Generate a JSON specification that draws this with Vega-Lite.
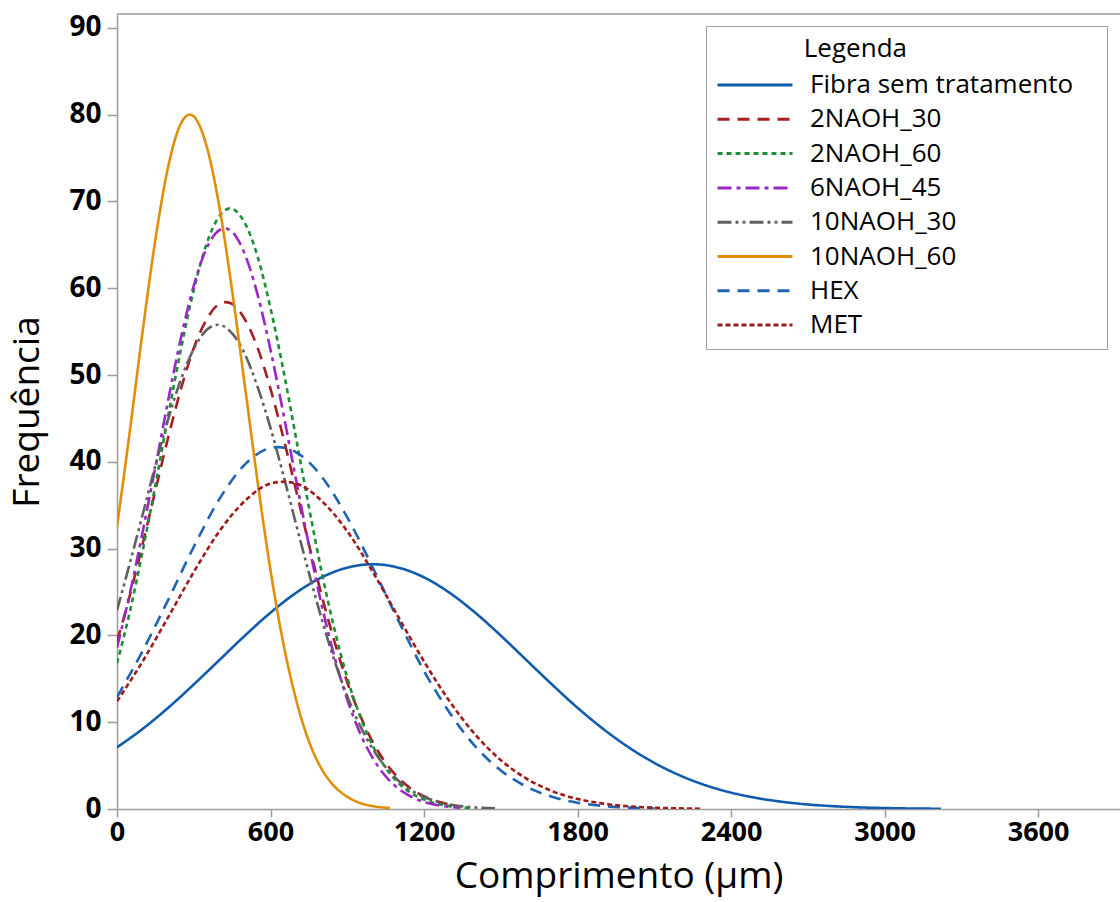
{
"$schema": "https://vega.github.io/schema/vega-lite/v6.json",
"width": 1003, "height": 795,
"autosize": {"type": "none"},
"padding": {"left": 117, "top": 14, "right": 0, "bottom": 93},
"background": "white",
"config": {"view": {"stroke": null}, "font": "Open Sans"},
"layer": [
{
"data": {"values": [
{"s":"Fibra sem tratamento","x":0,"y":7.10},{"s":"Fibra sem tratamento","x":100,"y":9.23},{"s":"Fibra sem tratamento","x":200,"y":11.66},{"s":"Fibra sem tratamento","x":300,"y":14.35},{"s":"Fibra sem tratamento","x":400,"y":17.16},{"s":"Fibra sem tratamento","x":500,"y":19.98},{"s":"Fibra sem tratamento","x":600,"y":22.62},{"s":"Fibra sem tratamento","x":700,"y":24.91},{"s":"Fibra sem tratamento","x":800,"y":26.69},{"s":"Fibra sem tratamento","x":900,"y":27.81},{"s":"Fibra sem tratamento","x":1000,"y":28.2},{"s":"Fibra sem tratamento","x":1100,"y":27.81},{"s":"Fibra sem tratamento","x":1200,"y":26.69},{"s":"Fibra sem tratamento","x":1300,"y":24.91},{"s":"Fibra sem tratamento","x":1400,"y":22.62},{"s":"Fibra sem tratamento","x":1500,"y":19.98},{"s":"Fibra sem tratamento","x":1600,"y":17.16},{"s":"Fibra sem tratamento","x":1700,"y":14.35},{"s":"Fibra sem tratamento","x":1800,"y":11.66},{"s":"Fibra sem tratamento","x":1900,"y":9.23},{"s":"Fibra sem tratamento","x":2000,"y":7.10},{"s":"Fibra sem tratamento","x":2100,"y":5.31},{"s":"Fibra sem tratamento","x":2200,"y":3.87},{"s":"Fibra sem tratamento","x":2300,"y":2.74},{"s":"Fibra sem tratamento","x":2400,"y":1.89},{"s":"Fibra sem tratamento","x":2500,"y":1.27},{"s":"Fibra sem tratamento","x":2600,"y":0.83},{"s":"Fibra sem tratamento","x":2700,"y":0.52},{"s":"Fibra sem tratamento","x":2800,"y":0.32},{"s":"Fibra sem tratamento","x":2900,"y":0.19},{"s":"Fibra sem tratamento","x":3000,"y":0.11},{"s":"Fibra sem tratamento","x":3100,"y":0.06},{"s":"Fibra sem tratamento","x":3220,"y":0.03},
{"s":"2NAOH_30","x":0,"y":19.3},{"s":"2NAOH_30","x":50,"y":24.6},{"s":"2NAOH_30","x":100,"y":30.5},{"s":"2NAOH_30","x":150,"y":36.7},{"s":"2NAOH_30","x":200,"y":42.8},{"s":"2NAOH_30","x":250,"y":48.4},{"s":"2NAOH_30","x":300,"y":53.1},{"s":"2NAOH_30","x":350,"y":56.4},{"s":"2NAOH_30","x":400,"y":58.2},{"s":"2NAOH_30","x":425,"y":58.4},{"s":"2NAOH_30","x":450,"y":58.2},{"s":"2NAOH_30","x":500,"y":56.4},{"s":"2NAOH_30","x":550,"y":53.1},{"s":"2NAOH_30","x":600,"y":48.4},{"s":"2NAOH_30","x":650,"y":42.8},{"s":"2NAOH_30","x":700,"y":36.7},{"s":"2NAOH_30","x":750,"y":30.5},{"s":"2NAOH_30","x":800,"y":24.6},{"s":"2NAOH_30","x":850,"y":19.3},{"s":"2NAOH_30","x":900,"y":14.6},{"s":"2NAOH_30","x":950,"y":10.8},{"s":"2NAOH_30","x":1000,"y":7.68},{"s":"2NAOH_30","x":1050,"y":5.32},{"s":"2NAOH_30","x":1100,"y":3.57},{"s":"2NAOH_30","x":1150,"y":2.32},{"s":"2NAOH_30","x":1200,"y":1.47},{"s":"2NAOH_30","x":1250,"y":0.90},{"s":"2NAOH_30","x":1300,"y":0.53},
{"s":"2NAOH_60","x":0,"y":16.8},{"s":"2NAOH_60","x":50,"y":22.7},{"s":"2NAOH_60","x":100,"y":29.7},{"s":"2NAOH_60","x":150,"y":37.3},{"s":"2NAOH_60","x":200,"y":45.3},{"s":"2NAOH_60","x":250,"y":53.0},{"s":"2NAOH_60","x":300,"y":59.8},{"s":"2NAOH_60","x":350,"y":65.1},{"s":"2NAOH_60","x":400,"y":68.3},{"s":"2NAOH_60","x":442,"y":69.2},{"s":"2NAOH_60","x":500,"y":67.5},{"s":"2NAOH_60","x":550,"y":63.6},{"s":"2NAOH_60","x":600,"y":57.7},{"s":"2NAOH_60","x":650,"y":50.6},{"s":"2NAOH_60","x":700,"y":42.7},{"s":"2NAOH_60","x":750,"y":34.8},{"s":"2NAOH_60","x":800,"y":27.3},{"s":"2NAOH_60","x":850,"y":20.7},{"s":"2NAOH_60","x":900,"y":15.1},{"s":"2NAOH_60","x":950,"y":10.7},{"s":"2NAOH_60","x":1000,"y":7.25},{"s":"2NAOH_60","x":1050,"y":4.75},{"s":"2NAOH_60","x":1100,"y":3.00},{"s":"2NAOH_60","x":1150,"y":1.83},{"s":"2NAOH_60","x":1200,"y":1.08},{"s":"2NAOH_60","x":1250,"y":0.61},{"s":"2NAOH_60","x":1300,"y":0.33},{"s":"2NAOH_60","x":1350,"y":0.18},{"s":"2NAOH_60","x":1380,"y":0.12},
{"s":"6NAOH_45","x":0,"y":18.6},{"s":"6NAOH_45","x":50,"y":24.8},{"s":"6NAOH_45","x":100,"y":31.9},{"s":"6NAOH_45","x":150,"y":39.4},{"s":"6NAOH_45","x":200,"y":47.1},{"s":"6NAOH_45","x":250,"y":54.3},{"s":"6NAOH_45","x":300,"y":60.3},{"s":"6NAOH_45","x":350,"y":64.6},{"s":"6NAOH_45","x":400,"y":66.7},{"s":"6NAOH_45","x":420,"y":66.9},{"s":"6NAOH_45","x":450,"y":66.5},{"s":"6NAOH_45","x":500,"y":63.9},{"s":"6NAOH_45","x":550,"y":59.2},{"s":"6NAOH_45","x":600,"y":52.9},{"s":"6NAOH_45","x":650,"y":45.6},{"s":"6NAOH_45","x":700,"y":37.9},{"s":"6NAOH_45","x":750,"y":30.4},{"s":"6NAOH_45","x":800,"y":23.5},{"s":"6NAOH_45","x":850,"y":17.5},{"s":"6NAOH_45","x":900,"y":12.6},{"s":"6NAOH_45","x":950,"y":8.74},{"s":"6NAOH_45","x":1000,"y":5.85},{"s":"6NAOH_45","x":1050,"y":3.77},{"s":"6NAOH_45","x":1100,"y":2.35},{"s":"6NAOH_45","x":1150,"y":1.41},{"s":"6NAOH_45","x":1200,"y":0.81},{"s":"6NAOH_45","x":1250,"y":0.45},{"s":"6NAOH_45","x":1300,"y":0.24},{"s":"6NAOH_45","x":1340,"y":0.15},
{"s":"10NAOH_30","x":0,"y":22.9},{"s":"10NAOH_30","x":50,"y":28.3},{"s":"10NAOH_30","x":100,"y":33.9},{"s":"10NAOH_30","x":150,"y":39.6},{"s":"10NAOH_30","x":200,"y":44.9},{"s":"10NAOH_30","x":250,"y":49.5},{"s":"10NAOH_30","x":300,"y":53.0},{"s":"10NAOH_30","x":350,"y":55.2},{"s":"10NAOH_30","x":395,"y":55.8},{"s":"10NAOH_30","x":450,"y":54.8},{"s":"10NAOH_30","x":500,"y":52.4},{"s":"10NAOH_30","x":550,"y":48.6},{"s":"10NAOH_30","x":600,"y":43.9},{"s":"10NAOH_30","x":650,"y":38.5},{"s":"10NAOH_30","x":700,"y":32.8},{"s":"10NAOH_30","x":750,"y":27.2},{"s":"10NAOH_30","x":800,"y":21.9},{"s":"10NAOH_30","x":850,"y":17.1},{"s":"10NAOH_30","x":900,"y":13.0},{"s":"10NAOH_30","x":950,"y":9.60},{"s":"10NAOH_30","x":1000,"y":6.89},{"s":"10NAOH_30","x":1050,"y":4.81},{"s":"10NAOH_30","x":1100,"y":3.26},{"s":"10NAOH_30","x":1150,"y":2.15},{"s":"10NAOH_30","x":1200,"y":1.38},{"s":"10NAOH_30","x":1250,"y":0.86},{"s":"10NAOH_30","x":1300,"y":0.52},{"s":"10NAOH_30","x":1350,"y":0.30},{"s":"10NAOH_30","x":1400,"y":0.17},{"s":"10NAOH_30","x":1477,"y":0.07},
{"s":"10NAOH_60","x":0,"y":32.5},{"s":"10NAOH_60","x":50,"y":43.5},{"s":"10NAOH_60","x":100,"y":55.0},{"s":"10NAOH_60","x":150,"y":65.6},{"s":"10NAOH_60","x":200,"y":74.0},{"s":"10NAOH_60","x":250,"y":79.0},{"s":"10NAOH_60","x":285,"y":80.0},{"s":"10NAOH_60","x":300,"y":79.8},{"s":"10NAOH_60","x":350,"y":76.4},{"s":"10NAOH_60","x":400,"y":69.4},{"s":"10NAOH_60","x":450,"y":59.7},{"s":"10NAOH_60","x":500,"y":48.7},{"s":"10NAOH_60","x":550,"y":37.6},{"s":"10NAOH_60","x":600,"y":27.5},{"s":"10NAOH_60","x":650,"y":19.1},{"s":"10NAOH_60","x":700,"y":12.6},{"s":"10NAOH_60","x":750,"y":7.8},{"s":"10NAOH_60","x":800,"y":4.6},{"s":"10NAOH_60","x":850,"y":2.6},{"s":"10NAOH_60","x":900,"y":1.4},{"s":"10NAOH_60","x":950,"y":0.69},{"s":"10NAOH_60","x":1000,"y":0.33},{"s":"10NAOH_60","x":1067,"y":0.11},
{"s":"HEX","x":0,"y":12.9},{"s":"HEX","x":100,"y":18.2},{"s":"HEX","x":200,"y":24.1},{"s":"HEX","x":300,"y":30.2},{"s":"HEX","x":400,"y":35.7},{"s":"HEX","x":500,"y":39.7},{"s":"HEX","x":600,"y":41.6},{"s":"HEX","x":630,"y":41.7},{"s":"HEX","x":700,"y":41.1},{"s":"HEX","x":800,"y":38.3},{"s":"HEX","x":900,"y":33.6},{"s":"HEX","x":1000,"y":27.8},{"s":"HEX","x":1100,"y":21.7},{"s":"HEX","x":1200,"y":15.9},{"s":"HEX","x":1300,"y":11.1},{"s":"HEX","x":1400,"y":7.22},{"s":"HEX","x":1500,"y":4.44},{"s":"HEX","x":1600,"y":2.58},{"s":"HEX","x":1700,"y":1.41},{"s":"HEX","x":1800,"y":0.73},{"s":"HEX","x":1900,"y":0.35},{"s":"HEX","x":2000,"y":0.16},{"s":"HEX","x":2100,"y":0.07},
{"s":"MET","x":0,"y":12.4},{"s":"MET","x":100,"y":17.0},{"s":"MET","x":200,"y":22.1},{"s":"MET","x":300,"y":27.3},{"s":"MET","x":400,"y":32.0},{"s":"MET","x":500,"y":35.5},{"s":"MET","x":600,"y":37.5},{"s":"MET","x":650,"y":37.7},{"s":"MET","x":700,"y":37.5},{"s":"MET","x":800,"y":35.5},{"s":"MET","x":900,"y":32.0},{"s":"MET","x":1000,"y":27.3},{"s":"MET","x":1100,"y":22.1},{"s":"MET","x":1200,"y":17.0},{"s":"MET","x":1300,"y":12.4},{"s":"MET","x":1400,"y":8.58},{"s":"MET","x":1500,"y":5.63},{"s":"MET","x":1600,"y":3.51},{"s":"MET","x":1700,"y":2.07},{"s":"MET","x":1800,"y":1.16},{"s":"MET","x":1900,"y":0.62},{"s":"MET","x":2000,"y":0.31},{"s":"MET","x":2100,"y":0.15},{"s":"MET","x":2200,"y":0.07},{"s":"MET","x":2280,"y":0.035}
]},
"mark": {"type": "line", "strokeWidth": 2.6, "interpolate": "monotone", "clip": true},
"encoding": {
"x": {"field": "x", "type": "quantitative",
 "scale": {"domain": [0, 3920], "nice": false, "zero": false},
 "axis": {"values": [0,600,1200,1800,2400,3000,3600], "format": "d", "title": "Comprimento (µm)", "grid": false,
  "titleFontSize": 37, "titleFontWeight": "normal", "titleColor": "#000", "titlePadding": 13,
  "labelFontSize": 27, "labelFontWeight": "bold", "labelColor": "#000", "labelPadding": 2, "labelFlush": false,
  "tickSize": 8, "tickColor": "#9a9a9a", "tickWidth": 1.5, "domainColor": "#9a9a9a", "domainWidth": 1.5}},
"y": {"field": "y", "type": "quantitative",
 "scale": {"domain": [0, 91.6], "nice": false},
 "axis": {"values": [0,10,20,30,40,50,60,70,80,90], "format": "d", "title": "Frequência", "grid": false,
  "titleFontSize": 37, "titleFontWeight": "normal", "titleColor": "#000", "titlePadding": 22,
  "labelFontSize": 28, "labelFontWeight": "bold", "labelColor": "#000", "labelPadding": 6,
  "tickSize": 10, "tickColor": "#9a9a9a", "tickWidth": 1.5, "domainColor": "#9a9a9a", "domainWidth": 1.5}},
"color": {"field": "s", "type": "nominal",
 "scale": {"domain": ["Fibra sem tratamento","2NAOH_30","2NAOH_60","6NAOH_45","10NAOH_30","10NAOH_60","HEX","MET"],
  "range": ["#0F5BAE","#A41E22","#1A8F35","#9B27C9","#606060","#E08E0B","#1F63B5","#A01A1A"]},
 "legend": {"title": "\u200b\u00a0\u00a0\u00a0\u00a0\u00a0\u00a0\u00a0\u00a0\u00a0\u00a0\u00a0\u00a0\u00a0Legenda\u00a0\u00a0\u00a0\u00a0\u00a0\u00a0\u00a0\u00a0\u00a0\u00a0\u00a0\u00a0\u00a0\u00a0\u00a0\u00a0\u00a0\u00a0\u00a0\u00a0\u00a0\u00a0\u00a0\u00a0\u00a0\u00a0\u00a0\u00a0\u200b", "orient": "none", "legendX": 589, "legendY": 12,
  "symbolType": "stroke", "symbolSize": 5625, "symbolStrokeWidth": 3, "clipHeight": 26, "rowPadding": 8.3,
  "labelFontSize": 26, "titleFontSize": 26, "titleFontWeight": "normal", "labelColor": "#000", "titleColor": "#000",
  "padding": 10, "fillColor": "white", "strokeColor": "#A0A0A0", "labelOffset": 16, "titlePadding": 10, "labelLimit": 400, "titleLimit": 600}},
"strokeDash": {"field": "s", "type": "nominal",
 "scale": {"domain": ["Fibra sem tratamento","2NAOH_30","2NAOH_60","6NAOH_45","10NAOH_30","10NAOH_60","HEX","MET"],
  "range": [[1,0],[12,8],[5,4],[14,5,4,5],[14,4,3,4,3,4],[1,0],[12,8],[5,3]]},
 "legend": {"title": "\u200b\u00a0\u00a0\u00a0\u00a0\u00a0\u00a0\u00a0\u00a0\u00a0\u00a0\u00a0\u00a0\u00a0Legenda\u00a0\u00a0\u00a0\u00a0\u00a0\u00a0\u00a0\u00a0\u00a0\u00a0\u00a0\u00a0\u00a0\u00a0\u00a0\u00a0\u00a0\u00a0\u00a0\u00a0\u00a0\u00a0\u00a0\u00a0\u00a0\u00a0\u00a0\u00a0\u200b", "orient": "none", "legendX": 589, "legendY": 12,
  "symbolType": "stroke", "symbolSize": 5625, "symbolStrokeWidth": 3, "clipHeight": 26, "rowPadding": 8.3,
  "labelFontSize": 26, "titleFontSize": 26, "titleFontWeight": "normal", "labelColor": "#000", "titleColor": "#000",
  "padding": 10, "fillColor": "white", "strokeColor": "#A0A0A0", "labelOffset": 16, "titlePadding": 10, "labelLimit": 400, "titleLimit": 600}}
}
},
{
"data": {"values": [{}]},
"mark": {"type": "rule", "color": "#9a9a9a", "strokeWidth": 1.5},
"encoding": {"y": {"datum": 91.6}}
}
]
}
